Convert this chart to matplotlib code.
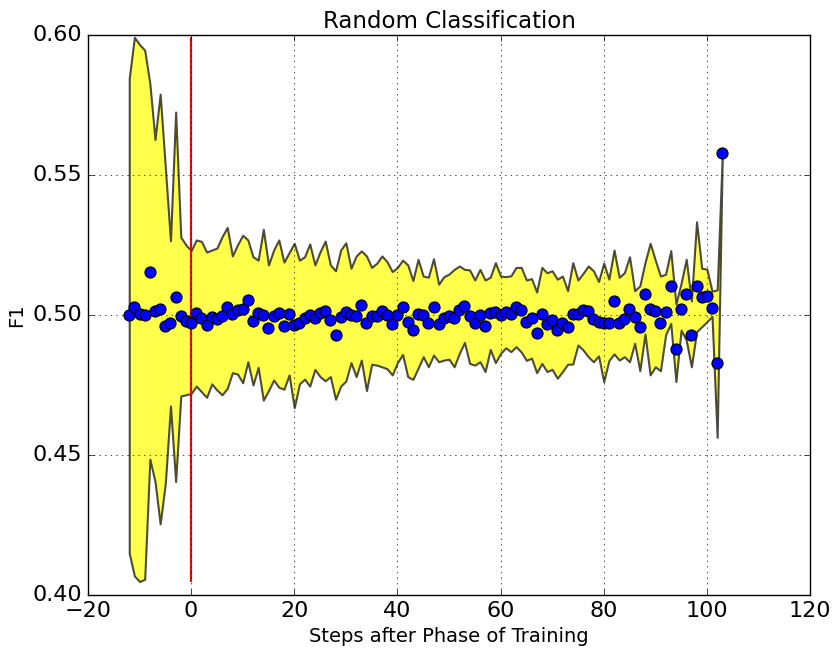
import numpy as np
from matplotlib import pyplot as plt

plt.style.use("classic")

steps = np.arange(-12, 104)

f1 = [0.500, 0.503, 0.5005, 0.500, 0.5154, 0.5014, 0.502, 0.496, 0.497, 0.5065,
      0.4996, 0.498, 0.497, 0.5008, 0.499, 0.4964, 0.4994, 0.4985, 0.4998, 0.5027,
      0.5004, 0.5018, 0.502, 0.5052, 0.498, 0.5006, 0.4999, 0.4955, 0.4996, 0.5006,
      0.496, 0.5004, 0.4963, 0.4973, 0.4988, 0.500, 0.499, 0.5006, 0.5015, 0.4981,
      0.4929, 0.4992, 0.5011, 0.5001, 0.4995, 0.5036, 0.497, 0.4995, 0.4996, 0.5015,
      0.4999, 0.4969, 0.4999, 0.503, 0.4974, 0.4948, 0.5004, 0.4999, 0.4973, 0.503,
      0.4968, 0.4988, 0.4996, 0.499, 0.5019, 0.5032, 0.4996, 0.4973, 0.500, 0.4961,
      0.5006, 0.5011, 0.4999, 0.5012, 0.5002, 0.503, 0.5018, 0.4974, 0.499, 0.4935,
      0.5002, 0.4968, 0.4982, 0.4946, 0.497, 0.4957, 0.5004, 0.5004, 0.5017, 0.5013,
      0.4987, 0.4975, 0.497, 0.497, 0.5049, 0.4973, 0.4986, 0.5021, 0.4992, 0.4956,
      0.5075, 0.502, 0.5014, 0.497, 0.5011, 0.5104, 0.488, 0.5021, 0.5075, 0.4927,
      0.5104, 0.5065, 0.5067, 0.5026, 0.4827, 0.5579]

upper = [0.5845, 0.5992, 0.5966, 0.5946, 0.5827, 0.5627, 0.5789, 0.5527, 0.5265, 0.5725,
         0.5278, 0.525, 0.523, 0.5268, 0.5263, 0.5225, 0.5232, 0.5239, 0.528, 0.5313,
         0.5211, 0.5251, 0.5285, 0.5268, 0.5208, 0.5196, 0.5306, 0.5179, 0.5232, 0.5268,
         0.5189, 0.5223, 0.5256, 0.5196, 0.5208, 0.5254, 0.5179, 0.5226, 0.5264, 0.5179,
         0.5158, 0.5232, 0.5258, 0.5167, 0.5211, 0.5229, 0.5211, 0.517, 0.5185, 0.5211,
         0.519, 0.5155, 0.517, 0.5196, 0.5179, 0.5123, 0.5199, 0.5139, 0.5135, 0.5201,
         0.511, 0.5137, 0.5146, 0.5163, 0.5175, 0.5163, 0.5161, 0.5125, 0.5163, 0.5125,
         0.5135, 0.5187, 0.5139, 0.5137, 0.514, 0.517, 0.517, 0.5125, 0.513, 0.5082,
         0.517, 0.5151, 0.5158, 0.5128, 0.5139, 0.5087, 0.5187, 0.5125, 0.5149, 0.5175,
         0.5158, 0.512, 0.5185, 0.5128, 0.5232, 0.5135, 0.5151, 0.5208, 0.5087, 0.5104,
         0.5187, 0.5256, 0.5196, 0.5139, 0.5146, 0.523, 0.504, 0.5113, 0.5199, 0.505,
         0.5333, 0.5167, 0.5164, 0.5085, 0.509, 0.5579]

lower = [0.4149, 0.4068, 0.4048, 0.4056, 0.4485, 0.4405, 0.4254, 0.4399, 0.4675, 0.4405,
         0.4711, 0.4715, 0.472, 0.4746, 0.4726, 0.4706, 0.4754, 0.4732, 0.4715, 0.4738,
         0.4794, 0.4789, 0.4758, 0.4833, 0.475, 0.4813, 0.4696, 0.473, 0.4768, 0.4742,
         0.4735, 0.4786, 0.4669, 0.4754, 0.4771, 0.4746, 0.4806, 0.478, 0.4765, 0.478,
         0.4699, 0.4746, 0.4764, 0.483, 0.478, 0.4839, 0.473, 0.4824, 0.4821, 0.4815,
         0.4808, 0.4786, 0.483, 0.4859, 0.478, 0.477, 0.481, 0.4851, 0.4815, 0.4857,
         0.4833, 0.4839, 0.4842, 0.4815, 0.4863, 0.4902, 0.4827, 0.4821, 0.4833, 0.4798,
         0.4877, 0.483, 0.4863, 0.4883, 0.4869, 0.4887, 0.4868, 0.4838, 0.4846, 0.4794,
         0.4827, 0.4798, 0.4806, 0.4774, 0.4798, 0.4824, 0.4825, 0.4893, 0.4875, 0.4851,
         0.4833, 0.4854, 0.4762, 0.4837, 0.4861, 0.4839, 0.4851, 0.4833, 0.4899, 0.4801,
         0.4932, 0.4786, 0.4815, 0.4801, 0.4929, 0.497, 0.4762, 0.4946, 0.491, 0.4815,
         0.494, 0.4958, 0.4976, 0.4995, 0.4563, 0.5579]

fig = plt.figure(figsize=(8.33, 6.57), dpi=100)
ax = fig.add_axes([0.1056, 0.0944, 0.8668, 0.8523])

ax.fill_between(steps, lower, upper, facecolor="yellow", edgecolor="black",
                alpha=0.7, linewidth=1.5)
ax.vlines(0, min(lower), max(upper), color="red", linewidth=1.5)
ax.plot(steps, f1, "o", color="blue", markersize=8, markeredgecolor="black",
        markeredgewidth=0.8)

ax.set_xlim(-20, 120)
ax.set_ylim(0.40, 0.60)
ax.set_yticks([0.40, 0.45, 0.50, 0.55, 0.60])
ax.set_yticklabels(["0.40", "0.45", "0.50", "0.55", "0.60"])
ax.tick_params(labelsize=16)
ax.grid(True)
ax.set_title("Random Classification", fontsize=16.5)
ax.set_xlabel("Steps after Phase of Training", fontsize=14)
ax.set_ylabel("F1", fontsize=14)

fig.savefig("out.png", dpi=100)
